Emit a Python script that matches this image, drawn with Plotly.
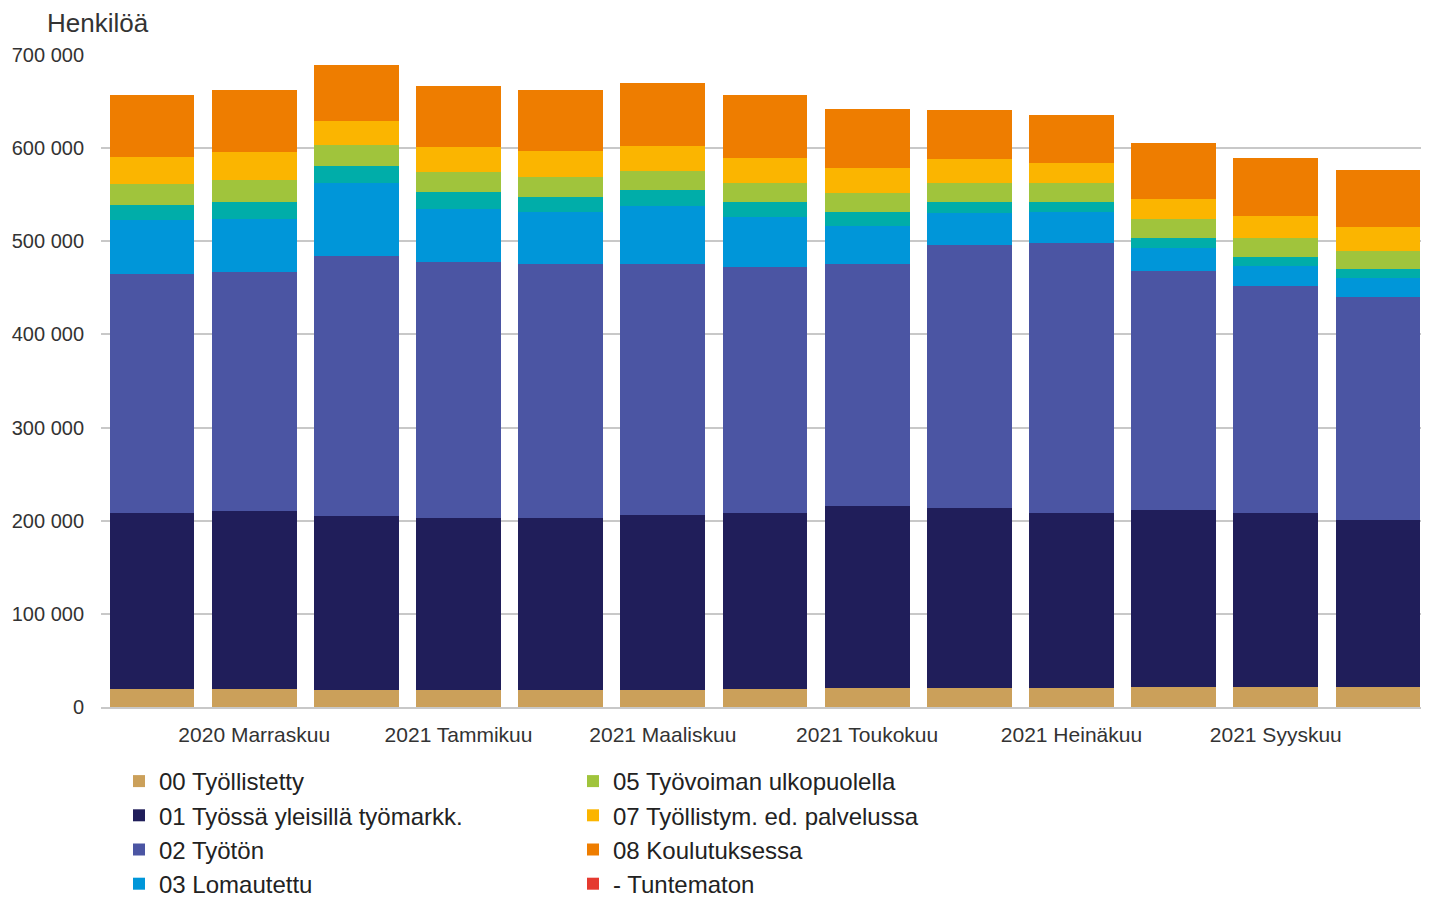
import plotly.graph_objects as go

months = ["2020 Lokakuu", "2020 Marraskuu", "2020 Joulukuu", "2021 Tammikuu", "2021 Helmikuu",
          "2021 Maaliskuu", "2021 Huhtikuu", "2021 Toukokuu", "2021 Kesäkuu", "2021 Heinäkuu",
          "2021 Elokuu", "2021 Syyskuu", "2021 Lokakuu"]
tick_labels = ["2020 Marraskuu", "2021 Tammikuu", "2021 Maaliskuu", "2021 Toukokuu",
               "2021 Heinäkuu", "2021 Syyskuu"]

tyollistetty = [19300, 19300, 18300, 18300, 18300, 18300, 19300, 20400, 20400, 20400, 21500, 21500, 21500]
tyossa = [189000, 191100, 186800, 184600, 184600, 187800, 189000, 195400, 193300, 187900, 190000, 186800, 179300]
tyoton = [256300, 256300, 279400, 274900, 272400, 269200, 263800, 259800, 282300, 290200, 256900, 243700, 239700]
lomautettu = [57900, 57600, 78400, 57200, 55800, 62900, 54000, 41200, 34100, 33000, 24400, 21500, 19800]
lyhennetty = [16500, 17900, 18300, 17600, 16500, 16900, 16100, 14300, 12100, 10700, 10400, 10000, 9600]
ulkopuolella = [22500, 23300, 21900, 21500, 21400, 20400, 20700, 20800, 20700, 20700, 20400, 19700, 19700]
palvelussa = [28700, 30100, 26100, 27100, 28300, 27100, 26900, 27100, 25100, 21500, 22200, 24000, 25400]
koulutuksessa = [66800, 66500, 60400, 65900, 65500, 67300, 67000, 63000, 53000, 50900, 60100, 61900, 61500]
tuntematon = [0, 0, 0, 0, 0, 0, 0, 0, 0, 0, 0, 0, 0]

series = [
    ("00 Työllistetty", tyollistetty, "#CBA05A", "legend", True),
    ("01 Työssä yleisillä työmarkk.", tyossa, "#201E5A", "legend", True),
    ("02 Työtön", tyoton, "#4B55A3", "legend", True),
    ("03 Lomautettu", lomautettu, "#0096D9", "legend", True),
    ("04 Lyhennetyllä työviikolla", lyhennetty, "#00ADA9", "legend", False),
    ("05 Työvoiman ulkopuolella", ulkopuolella, "#A0C43C", "legend2", True),
    ("07 Työllistym. ed. palvelussa", palvelussa, "#FBB500", "legend2", True),
    ("08 Koulutuksessa", koulutuksessa, "#EE7D00", "legend2", True),
    ("- Tuntematon", tuntematon, "#E53A30", "legend2", True),
]

fig = go.Figure()
for name, vals, color, leg, show in series:
    fig.add_trace(go.Bar(
        x=months, y=vals, name=name, legend=leg, showlegend=show,
        marker=dict(color=color, line=dict(width=0)),
    ))

W, H = 1421, 890
font_family = "Liberation Sans, Arial, sans-serif"
leg_font = dict(size=24, color="#222222", family=font_family)
fig.update_layout(
    width=W, height=H,
    barmode="stack", bargap=0.17,
    paper_bgcolor="white", plot_bgcolor="white",
    margin=dict(l=93, r=0, t=47, b=191, autoexpand=False),
    separators=", ",
    font=dict(family=font_family, color="#333333", size=20),
    title=dict(text="Henkilöä", xref="container", yref="container",
               x=39 / W, y=1 - 15 / H, xanchor="left", yanchor="middle",
               font=dict(size=26, color="#333333")),
    xaxis=dict(tickmode="array", tickvals=tick_labels, ticktext=tick_labels,
               showgrid=False, showline=True, linecolor="#C8C8C8", linewidth=2,
               ticks="outside", ticklen=8, tickcolor="rgba(0,0,0,0)", tickangle=0,
               tickfont=dict(size=21, color="#333333")),
    yaxis=dict(range=[0, 700000], tickvals=[0, 100000, 200000, 300000, 400000, 500000, 600000, 700000],
               tickformat=",d", showgrid=True, gridcolor="#C8C8C8", gridwidth=2,
               zeroline=False, ticks="outside", ticklen=12, tickcolor="rgba(0,0,0,0)",
               tickfont=dict(size=20, color="#333333")),
    legend=dict(xref="container", yref="container", x=111 / W, y=1 - 751 / H,
                xanchor="left", yanchor="top", traceorder="normal", tracegroupgap=0,
                font=leg_font, bgcolor="rgba(0,0,0,0)"),
    legend2=dict(xref="container", yref="container", x=565 / W, y=1 - 751 / H,
                 xanchor="left", yanchor="top", traceorder="normal", tracegroupgap=0,
                 font=leg_font, bgcolor="rgba(0,0,0,0)"),
)

fig.write_html("out.html")
